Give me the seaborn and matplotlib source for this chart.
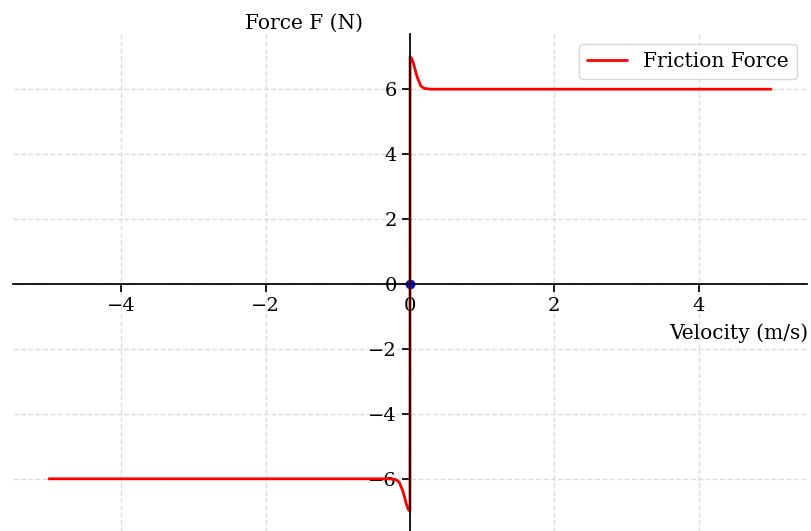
import matplotlib
matplotlib.use("Agg")
import matplotlib.pyplot as plt
import seaborn as sns
import pandas as pd

# Friction force vs velocity (Stribeck-type curve with static peak)
velocity = [-5.0, -1.0, -0.4, -0.3, -0.25, -0.2, -0.15, -0.1, -0.075, -0.05, -0.025, -0.001,
            0.001, 0.025, 0.05, 0.075, 0.1, 0.15, 0.2, 0.25, 0.3, 0.4, 1.0, 5.0]
force = [-6.0, -6.0, -6.0, -6.0, -6.01, -6.02, -6.1, -6.37, -6.57, -6.78, -6.94, -7.0,
         7.0, 6.94, 6.78, 6.57, 6.37, 6.1, 6.02, 6.01, 6.0, 6.0, 6.0, 6.0]
rest_v = [0.0]
rest_f = [0.0]

x_ticks = [-4, -2, 0, 2, 4]
y_ticks = [-6, -4, -2, 0, 2, 4, 6]

sns.set_theme(style="ticks")
plt.rcParams["font.family"] = ["DejaVu Serif"]
plt.rcParams["axes.unicode_minus"] = True
for key in ["text.color", "axes.labelcolor", "xtick.color", "ytick.color", "axes.edgecolor"]:
    plt.rcParams[key] = "black"

df = pd.DataFrame({"v": velocity, "F": force})

fig = plt.figure(figsize=(8.11, 5.31), dpi=100)
ax = fig.add_axes([13 / 811, -3 / 531, 794 / 811, 500 / 531])

ax.plot(rest_v, rest_f, "o", color="blue", markersize=6, zorder=1)
sns.lineplot(data=df, x="v", y="F", sort=False, color="red", linewidth=2,
             label="Friction Force", ax=ax, zorder=2)

ax.set_xlim(-5.5, 5.5)
ax.set_ylim(-7.7, 7.7)
ax.set_xticks(x_ticks)
ax.set_yticks(y_ticks)
ax.tick_params(labelsize=14)

ax.spines["left"].set_position(("data", 0))
ax.spines["bottom"].set_position(("data", 0))
ax.spines["top"].set_visible(False)
ax.spines["right"].set_visible(False)

ax.grid(True, linestyle="--", color="#dddddd", linewidth=1)
ax.set_axisbelow(True)

ax.set_xlabel("Velocity (m/s)", fontsize=14.5)
ax.set_ylabel("Force F (N)", fontsize=14.5, rotation=0)
ax.xaxis.set_label_coords(0.914, 0.422)
ax.yaxis.set_label_coords(0.366, 1.002)

ax.legend(loc="upper right", fontsize=14.5, frameon=True)

fig.savefig("out.png", dpi=100)
